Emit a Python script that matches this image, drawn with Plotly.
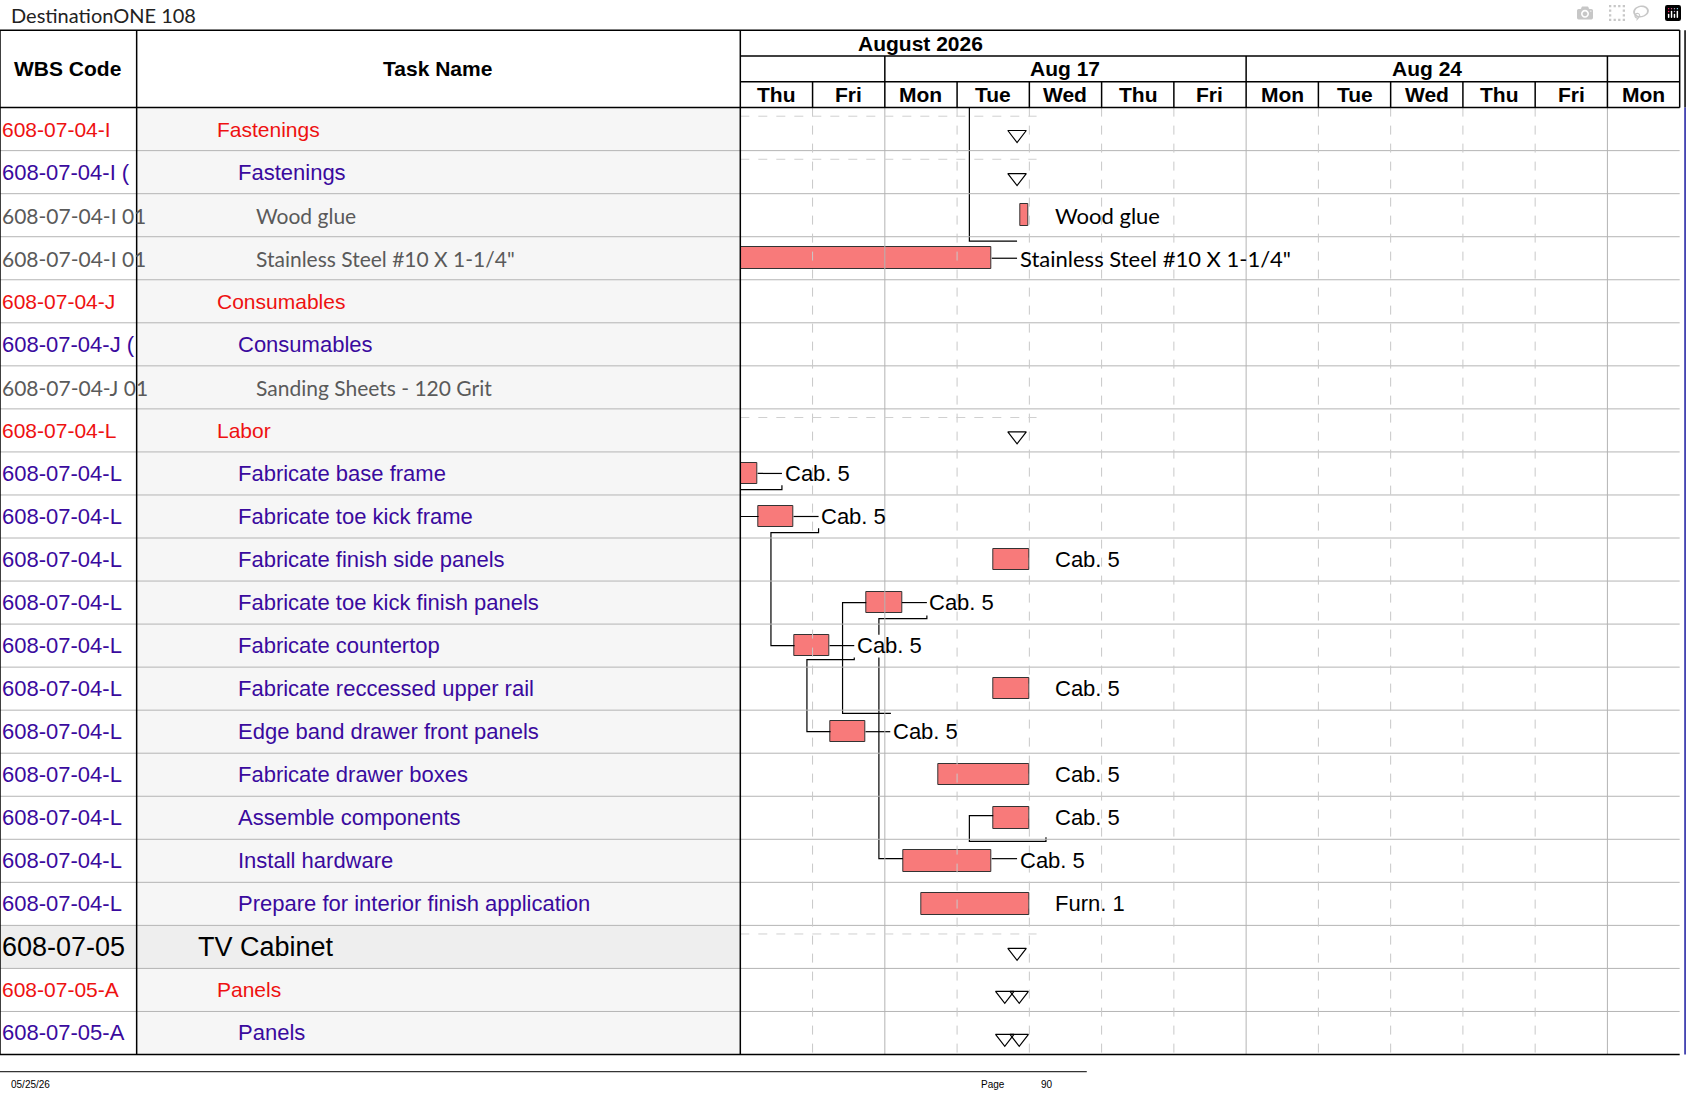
import plotly.graph_objects as go

# ---- data ----
wbs_codes = [
    "608-07-04-I", "608-07-04-I (", "608-07-04-I 01", "608-07-04-I 01",
    "608-07-04-J", "608-07-04-J (", "608-07-04-J 01", "608-07-04-L",
    "608-07-04-L", "608-07-04-L", "608-07-04-L", "608-07-04-L", "608-07-04-L",
    "608-07-04-L", "608-07-04-L", "608-07-04-L", "608-07-04-L", "608-07-04-L",
    "608-07-04-L", "608-07-05", "608-07-05-A", "608-07-05-A",
]
task_names = [
    "Fastenings", "Fastenings", "Wood glue", "Stainless Steel #10 X 1-1/4\"",
    "Consumables", "Consumables", "Sanding Sheets - 120 Grit", "Labor",
    "Fabricate base frame", "Fabricate toe kick frame", "Fabricate finish side panels",
    "Fabricate toe kick finish panels", "Fabricate countertop",
    "Fabricate reccessed upper rail", "Edge band drawer front panels",
    "Fabricate drawer boxes", "Assemble components", "Install hardware",
    "Prepare for interior finish application", "TV Cabinet", "Panels", "Panels",
]
levels = [1, 2, 3, 3, 1, 2, 3, 1, 2, 2, 2, 2, 2, 2, 2, 2, 2, 2, 2, 0, 1, 2]

day_names = ["Thu", "Fri", "Mon", "Tue", "Wed", "Thu", "Fri",
             "Mon", "Tue", "Wed", "Thu", "Fri", "Mon"]
week_labels = [("Aug 17", 2, 7), ("Aug 24", 7, 12)]
month_label = "August 2026"

# bars: row, start day, end day, label, label day
bar_rows = [2, 3, 8, 9, 10, 11, 12, 13, 14, 15, 16, 17, 18]
bar_start = [3.87, 0.0, 0.0, 0.253, 3.5, 1.743, 0.751, 3.5, 1.249, 2.743, 3.5, 2.25, 2.5]
bar_end = [3.99, 3.48, 0.24, 0.737, 4.0, 2.236, 1.235, 4.0, 1.733, 4.0, 4.0, 3.48, 4.0]
bar_labels = ["Wood glue", "Stainless Steel #10 X 1-1/4\"", "Cab. 5", "Cab. 5", "Cab. 5",
              "Cab. 5", "Cab. 5", "Cab. 5", "Cab. 5", "Cab. 5", "Cab. 5", "Cab. 5", "Furn. 1"]
label_day = [4.33, 3.84, 0.59, 1.09, 4.33, 2.59, 1.59, 4.33, 2.09, 4.33, 4.33, 3.84, 4.33]

# summary triangles: row, day
tri_rows = [0, 1, 7, 19, 20, 20, 21, 21]
tri_days = [3.83, 3.83, 3.83, 3.83, 3.66, 3.86, 3.66, 3.86]
summary_rows = [0, 1, 7, 19]

# dependency / leader lines (day, y px)
links = [
    [(0.24, 440), (0.576, 440)],
    [(0.576, 451), (0.576, 455), (0, 455)],
    [(0, 480), (0.253, 480)],
    [(0.737, 480), (1.083, 480)],
    [(1.083, 491), (1.083, 495), (0.424, 495), (0.424, 600), (0.751, 600)],
    [(1.235, 600), (1.577, 600)],
    [(1.577, 611), (1.577, 613), (0.922, 613), (0.922, 680), (1.249, 680)],
    [(1.733, 680), (2.075, 680)],
    [(2.084, 663), (1.415, 663), (1.415, 560), (1.743, 560)],
    [(2.236, 560), (2.582, 560)],
    [(2.582, 572), (2.582, 575), (1.918, 575), (1.918, 590)],
    [(1.918, 611), (1.918, 798), (2.25, 798)],
    [(3.48, 798), (3.83, 798)],
    [(4.23, 778), (4.23, 782), (3.17, 782), (3.17, 758), (3.5, 758)],
    [(3.17, 100), (3.17, 224), (3.83, 224)],
    [(3.48, 240), (3.83, 240)],
]

# ---- layout constants (px in a 1568x1020 frame) ----
W, H = 1567.8, 1019.5
TOP, ROW = 100, 40
GX0, GX1 = 688, 1561
NDAYS = 13
def ry(i):
    return TOP + ROW * i + ROW / 2

styles = {
    0: dict(color="black", family="Liberation Sans, Arial", size=27, x=182),
    1: dict(color="#ee1111", family="Liberation Sans, Arial", size=21, x=200),
    2: dict(color="#3a0a9e", family="Liberation Sans, Arial", size=22, x=219),
    3: dict(color="#5a5a5a", family="Lato, Open Sans", size=21, x=236),
}

fig = go.Figure()
shapes, ann = [], []

# table backgrounds
shapes.append(dict(type="rect", xref="x", yref="y", x0=127, x1=GX0, y0=TOP, y1=TOP + ROW * 22,
                   fillcolor="#f6f6f6", line_width=0, layer="below"))
shapes.append(dict(type="rect", xref="x", yref="y", x0=0, x1=GX0, y0=TOP + ROW * 19,
                   y1=TOP + ROW * 20, fillcolor="#eeeeee", line_width=0, layer="below"))

# row lines
for i in range(1, 22):
    shapes.append(dict(type="line", xref="x", yref="y", x0=0, x1=GX1, y0=TOP + ROW * i,
                       y1=TOP + ROW * i, line=dict(color="#b4b4b4", width=1)))

# gantt day grid
for d in range(1, NDAYS):
    solid = d in (2, 7, 12)
    shapes.append(dict(type="line", xref="x2", yref="y", x0=d, x1=d, y0=TOP, y1=TOP + ROW * 22,
                       line=dict(color="#b4b4b4" if solid else "#c8c8c8", width=1,
                                 dash="solid" if solid else "dash")))

# summary dashed lines
for r in summary_rows:
    yy = TOP + ROW * r + 8
    shapes.append(dict(type="line", xref="x2", yref="y", x0=0, x1=4.1, y0=yy, y1=yy,
                       line=dict(color="#d0d0d0", width=1, dash="dash")))

# table frame
black = dict(color="black", width=1.5)
for x0, y0, x1, y1 in [
    (0, 28, GX1, 28), (0, TOP, GX1, TOP), (0, TOP + ROW * 22, GX1, TOP + ROW * 22),
    (0, 28, 0, TOP + ROW * 22), (127, 28, 127, TOP + ROW * 22),
    (GX0, 28, GX0, TOP + ROW * 22), (GX1, 28, GX1, 100),
    (GX0, 52, GX1, 52), (GX0, 76, GX1, 76),
]:
    shapes.append(dict(type="line", xref="x", yref="y", x0=x0, x1=x1, y0=y0, y1=y1, line=black))
shapes.append(dict(type="line", xref="x", yref="y", x0=1566, x1=1566, y0=28, y1=100, line=black))
shapes.append(dict(type="line", xref="x", yref="y", x0=1566, x1=1566, y0=100, y1=TOP + ROW * 22,
                   line=dict(color="#1a1aa0", width=1.5)))
for d in range(1, NDAYS):
    shapes.append(dict(type="line", xref="x2", yref="y", x0=d, x1=d, y0=76, y1=100, line=black))
for d in (2, 7, 12):
    shapes.append(dict(type="line", xref="x2", yref="y", x0=d, x1=d, y0=52, y1=76, line=black))

# footer
shapes.append(dict(type="line", xref="x", yref="y", x0=0, x1=1010, y0=996, y1=996,
                   line=dict(color="black", width=1)))

hdr = dict(family="Liberation Sans, Arial", size=21, color="black")
ann.append(dict(x=8, y=14, text="DestinationONE 108", xanchor="left",
                font=dict(family="Lato, Open Sans", size=20, color="#222")))
ann.append(dict(x=63, y=64, text="<b>WBS Code</b>", font=hdr))
ann.append(dict(x=407, y=64, text="<b>Task Name</b>", font=hdr))
ann.append(dict(x=2.5, xref="x2", y=40, text="<b>" + month_label + "</b>", font=hdr))
for lbl, a, b in week_labels:
    ann.append(dict(x=(a + b) / 2, xref="x2", y=64, text="<b>" + lbl + "</b>", font=hdr))
for d, nm in enumerate(day_names):
    ann.append(dict(x=d + 0.5, xref="x2", y=88, text="<b>" + nm + "</b>", font=hdr))
small = dict(family="Liberation Sans, Arial", size=10, color="black")
ann += [dict(x=8, y=1008, text="05/25/26", xanchor="left", font=small),
        dict(x=910, y=1008, text="Page", xanchor="left", font=small),
        dict(x=966, y=1008, text="90", xanchor="left", font=small)]

# table text
for i, (code, name, lv) in enumerate(zip(wbs_codes, task_names, levels)):
    st = styles[lv]
    f = dict(family=st["family"], size=st["size"], color=st["color"])
    ann.append(dict(x=0, y=ry(i), text=code, xanchor="left", font=f))
    ann.append(dict(x=st["x"], y=ry(i), text=name, xanchor="left", font=f))

# bars
fig.add_trace(go.Bar(
    x=[e - s for s, e in zip(bar_start, bar_end)], base=bar_start,
    y=[ry(r) for r in bar_rows], orientation="h", width=20, xaxis="x2", yaxis="y",
    marker=dict(color="#f87a7a", line=dict(color="#333", width=1)), showlegend=False,
))
for r, lbl, d in zip(bar_rows, bar_labels, label_day):
    fam = "Lato, Open Sans" if r in (2, 3) else "Liberation Sans, Arial"
    ann.append(dict(x=d, xref="x2", y=ry(r), text=lbl, xanchor="left",
                    font=dict(family=fam, size=22, color="black")))
ann.append(dict(x=-0.03, xref="x2", y=ry(6), text="20 Grit", xanchor="left",
                font=dict(family="Lato, Open Sans", size=21, color="black")))

# links
for seg in links:
    fig.add_trace(go.Scatter(x=[p[0] for p in seg], y=[p[1] for p in seg], mode="lines",
                             xaxis="x2", yaxis="y", line=dict(color="black", width=1.2),
                             showlegend=False, hoverinfo="skip"))

# summary triangles
fig.add_trace(go.Scatter(x=tri_days, y=[TOP + ROW * r + 25 for r in tri_rows], mode="markers",
                         xaxis="x2", yaxis="y", showlegend=False,
                         marker=dict(symbol="triangle-down-open", size=16,
                                     color="black", line=dict(width=1.2))))

for a in ann:
    a.setdefault("xref", "x")
    a["yref"] = "y"
    a["showarrow"] = False
    a.setdefault("xanchor", "center")

fig.update_layout(
    width=1687, height=1097, margin=dict(l=0, r=0, t=0, b=0),
    paper_bgcolor="white", plot_bgcolor="rgba(0,0,0,0)",
    xaxis=dict(range=[0, W], domain=[0, 1], visible=False, fixedrange=True),
    xaxis2=dict(range=[0, NDAYS], domain=[GX0 / W, GX1 / W], anchor="y",
                visible=False, fixedrange=True),
    yaxis=dict(range=[H, 0], domain=[0, 1], visible=False, fixedrange=True),
    shapes=shapes, annotations=ann, bargap=0,
)
fig.write_html("out.html", post_script="document.body.style.margin='0';")
